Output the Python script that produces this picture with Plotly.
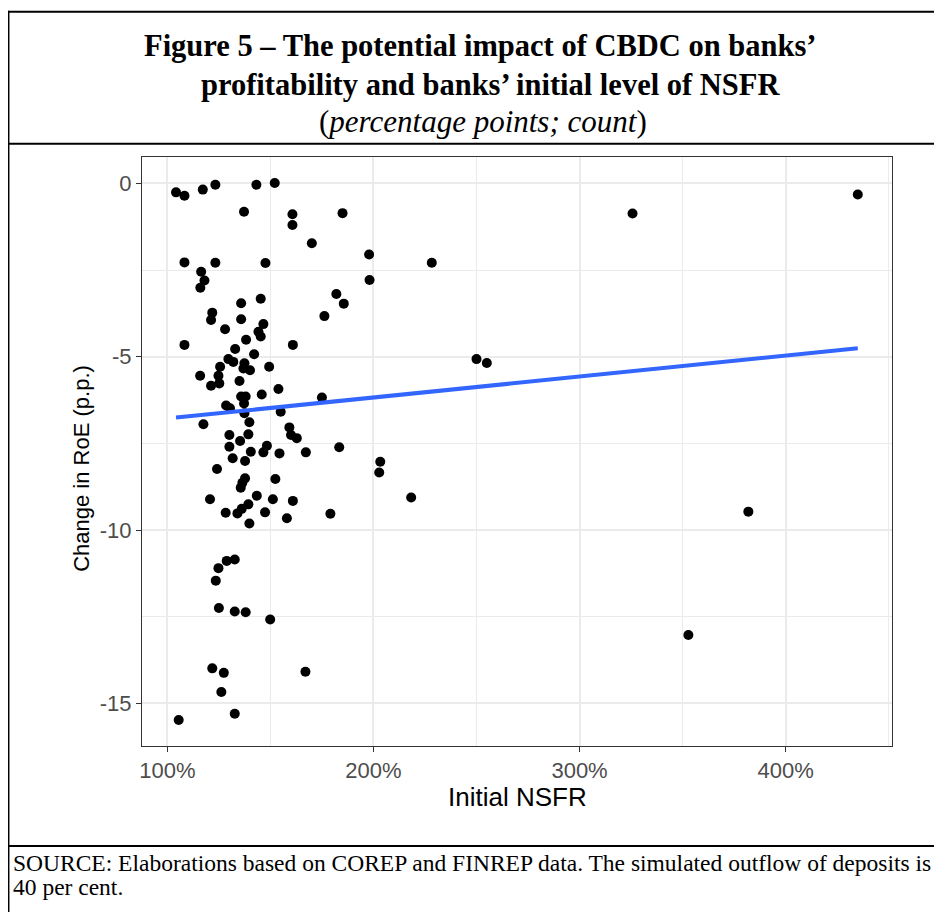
import numpy as np
import plotly.graph_objects as go

# ---- data ----
nsfr_pct = [
    104.2, 108.3, 117.2, 123.3, 143.2, 152.1, 137.2, 160.7, 160.7, 108.3,
    123.3, 147.6, 116.4, 118.0, 116.0, 135.8, 145.3, 121.8, 121.2, 135.8,
    128.0, 146.6, 144.2, 145.3, 138.2, 108.3, 132.9, 160.9,
    142.1, 129.6, 132.0, 137.4, 140.1, 136.9, 125.6, 149.4, 115.9, 124.8,
    125.2, 121.2, 135.0, 153.9, 145.8, 135.8, 138.0, 137.2, 128.5, 130.4,
    137.4, 155.0, 117.5, 139.8, 159.2, 160.0, 162.8, 130.1, 139.3, 135.3,
    130.1, 148.3, 146.6, 140.5, 154.4, 131.7, 137.7, 124.1, 137.7, 136.4,
    135.6, 152.4, 120.7, 143.4, 151.2, 160.9, 128.3, 134.0, 136.1, 139.3,
    147.4, 158.0, 139.8,
    175.0, 167.2, 183.4, 203.3, 202.8, 218.3, 179.1, 185.0, 170.1, 197.9,
    228.3, 198.1, 182.0, 185.6, 176.2,
    128.8, 132.7, 124.8, 123.5, 125.0, 132.7, 138.0, 149.9, 121.8, 127.4,
    126.2, 132.7, 105.5, 167.0,
    435.0, 325.7, 250.0, 255.0, 381.9, 352.8,
]
roe_change = [
    -0.26, -0.36, -0.18, -0.04, -0.04, 0.01, -0.82, -0.89, -1.20, -2.28,
    -2.29, -2.30, -2.55, -2.80, -3.01, -3.46, -3.33, -3.73, -3.94, -3.92,
    -4.21, -4.06, -4.28, -4.42, -4.51, -4.66, -4.78, -4.66,
    -4.93, -5.07, -5.15, -5.19, -5.39, -5.34, -5.29, -5.29, -5.55, -5.55,
    -5.77, -5.84, -5.70, -5.93, -6.09, -6.15, -6.15, -6.35, -6.41, -6.49,
    -6.63, -6.59, -6.95, -6.89, -7.04, -7.26, -7.35, -7.26, -7.24, -7.43,
    -7.60, -7.57, -7.76, -7.74, -7.79, -7.93, -8.01, -8.24, -8.51, -8.64,
    -8.78, -8.53, -9.11, -9.01, -9.11, -9.16, -9.50, -9.52, -9.39, -9.26,
    -9.49, -9.66, -9.81,
    -6.18, -7.76, -7.61, -8.03, -8.34, -9.06, -9.53, -0.86, -1.73, -2.05,
    -2.29, -2.79, -3.19, -3.47, -3.83,
    -10.89, -10.85, -11.10, -11.46, -12.25, -12.35, -12.37, -12.58, -13.99, -14.12,
    -14.67, -15.30, -15.48, -14.09,
    -0.32, -0.87, -5.07, -5.18, -9.47, -13.03,
]
x_tick_vals = [100, 200, 300, 400]
x_tick_text = ["100%", "200%", "300%", "400%"]
y_tick_vals = [0, -5, -10, -15]
y_tick_text = ["0", "-5", "-10", "-15"]

title_line1 = "Figure 5 \u2013 The potential impact of CBDC on banks\u2019"
title_line2 = "profitability and banks\u2019 initial level of NSFR"
subtitle = "(<i>percentage points; count</i>)"
source_line1 = "SOURCE: Elaborations based on COREP and FINREP data. The simulated outflow of deposits is"
source_line2 = "40 per cent."

# ---- linear fit (geom_smooth lm) ----
xa = np.array(nsfr_pct)
ya = np.array(roe_change)
slope, intercept = np.polyfit(xa, ya, 1)
fit_x = np.array([xa.min(), xa.max()])
fit_y = intercept + slope * fit_x

# page has an 8px body margin: work in window pixels, convert to figure pixels
OFF = 8
W, H = 942 - OFF, 912 - OFF
L, R, T, B = 142 - OFF, 891.7 - OFF, 157.3 - OFF, 746 - OFF

def px(x):
    return (x - OFF - L) / (R - L)

def py(y):
    return (B - (y - OFF)) / (B - T)

fig = go.Figure()
fig.add_trace(go.Scatter(x=nsfr_pct, y=roe_change, mode="markers",
                         marker=dict(color="black", size=10, line=dict(width=0)),
                         showlegend=False, hoverinfo="skip"))
fig.add_trace(go.Scatter(x=fit_x, y=fit_y, mode="lines",
                         line=dict(color="#3366FF", width=4),
                         showlegend=False, hoverinfo="skip"))

sans = "Liberation Sans, Arial, sans-serif"
serif = "Liberation Serif, Times New Roman, serif"

axis_common = dict(
    showline=True, linecolor="#333333", linewidth=1, mirror=True,
    ticks="outside", ticklen=5, tickcolor="#333333", tickwidth=1,
    showgrid=True, gridcolor="#EBEBEB", gridwidth=1.6,
    zeroline=False,
    tickfont=dict(family=sans, size=22, color="#4D4D4D"),
)

fig.update_xaxes(range=[87.7, 451.6], tickvals=x_tick_vals, ticktext=x_tick_text,
                 minor=dict(tickvals=[150, 250, 350, 450], showgrid=True,
                            gridcolor="#EBEBEB", gridwidth=0.8, ticks=""),
                 **axis_common)
fig.update_yaxes(range=[-16.23, 0.76], tickvals=y_tick_vals, ticktext=y_tick_text,
                 minor=dict(tickvals=[-2.5, -7.5, -12.5], showgrid=True,
                            gridcolor="#EBEBEB", gridwidth=0.8, ticks=""),
                 **axis_common)

ann = []
ann.append(dict(text="<b>" + title_line1 + "</b>", x=px(480), y=py(46), xref="paper", yref="paper",
                showarrow=False, xanchor="center", yanchor="middle",
                font=dict(family=serif, size=30.5, color="black")))
ann.append(dict(text="<b>" + title_line2 + "</b>", x=px(490), y=py(85), xref="paper", yref="paper",
                showarrow=False, xanchor="center", yanchor="middle",
                font=dict(family=serif, size=30.5, color="black")))
ann.append(dict(text=subtitle, x=px(483), y=py(122), xref="paper", yref="paper",
                showarrow=False, xanchor="center", yanchor="middle",
                font=dict(family=serif, size=31, color="black")))
ann.append(dict(text="Initial NSFR", x=px(517), y=py(797), xref="paper", yref="paper",
                showarrow=False, xanchor="center", yanchor="middle",
                font=dict(family=sans, size=26, color="black")))
ann.append(dict(text="Change in RoE (p.p.)", x=px(82), y=py(468), xref="paper", yref="paper",
                showarrow=False, xanchor="center", yanchor="middle", textangle=-90,
                font=dict(family=sans, size=22, color="black")))
ann.append(dict(text=source_line1, x=px(11), y=py(863), xref="paper", yref="paper",
                showarrow=False, xanchor="left", yanchor="middle",
                font=dict(family=serif, size=23.5, color="black")))
ann.append(dict(text=source_line2, x=px(11), y=py(887), xref="paper", yref="paper",
                showarrow=False, xanchor="left", yanchor="middle",
                font=dict(family=serif, size=23.5, color="black")))

shapes = []
def hline(y, x0, x1, w=2):
    shapes.append(dict(type="line", xref="paper", yref="paper", x0=px(x0), x1=px(x1),
                       y0=py(y), y1=py(y), line=dict(color="black", width=w)))
def vline(x, y0, y1, w=2):
    shapes.append(dict(type="line", xref="paper", yref="paper", x0=px(x), x1=px(x),
                       y0=py(y0), y1=py(y1), line=dict(color="black", width=w)))
hline(12, 8, 950)
hline(144, 8, 950)
hline(846, 8, 950)
vline(8.5, 11, 920)

fig.update_layout(
    width=W, height=H, autosize=False,
    margin=dict(l=L, r=W - R, t=T, b=H - B),
    paper_bgcolor="white", plot_bgcolor="white",
    annotations=ann, shapes=shapes,
)

fig.write_html("out.html")
